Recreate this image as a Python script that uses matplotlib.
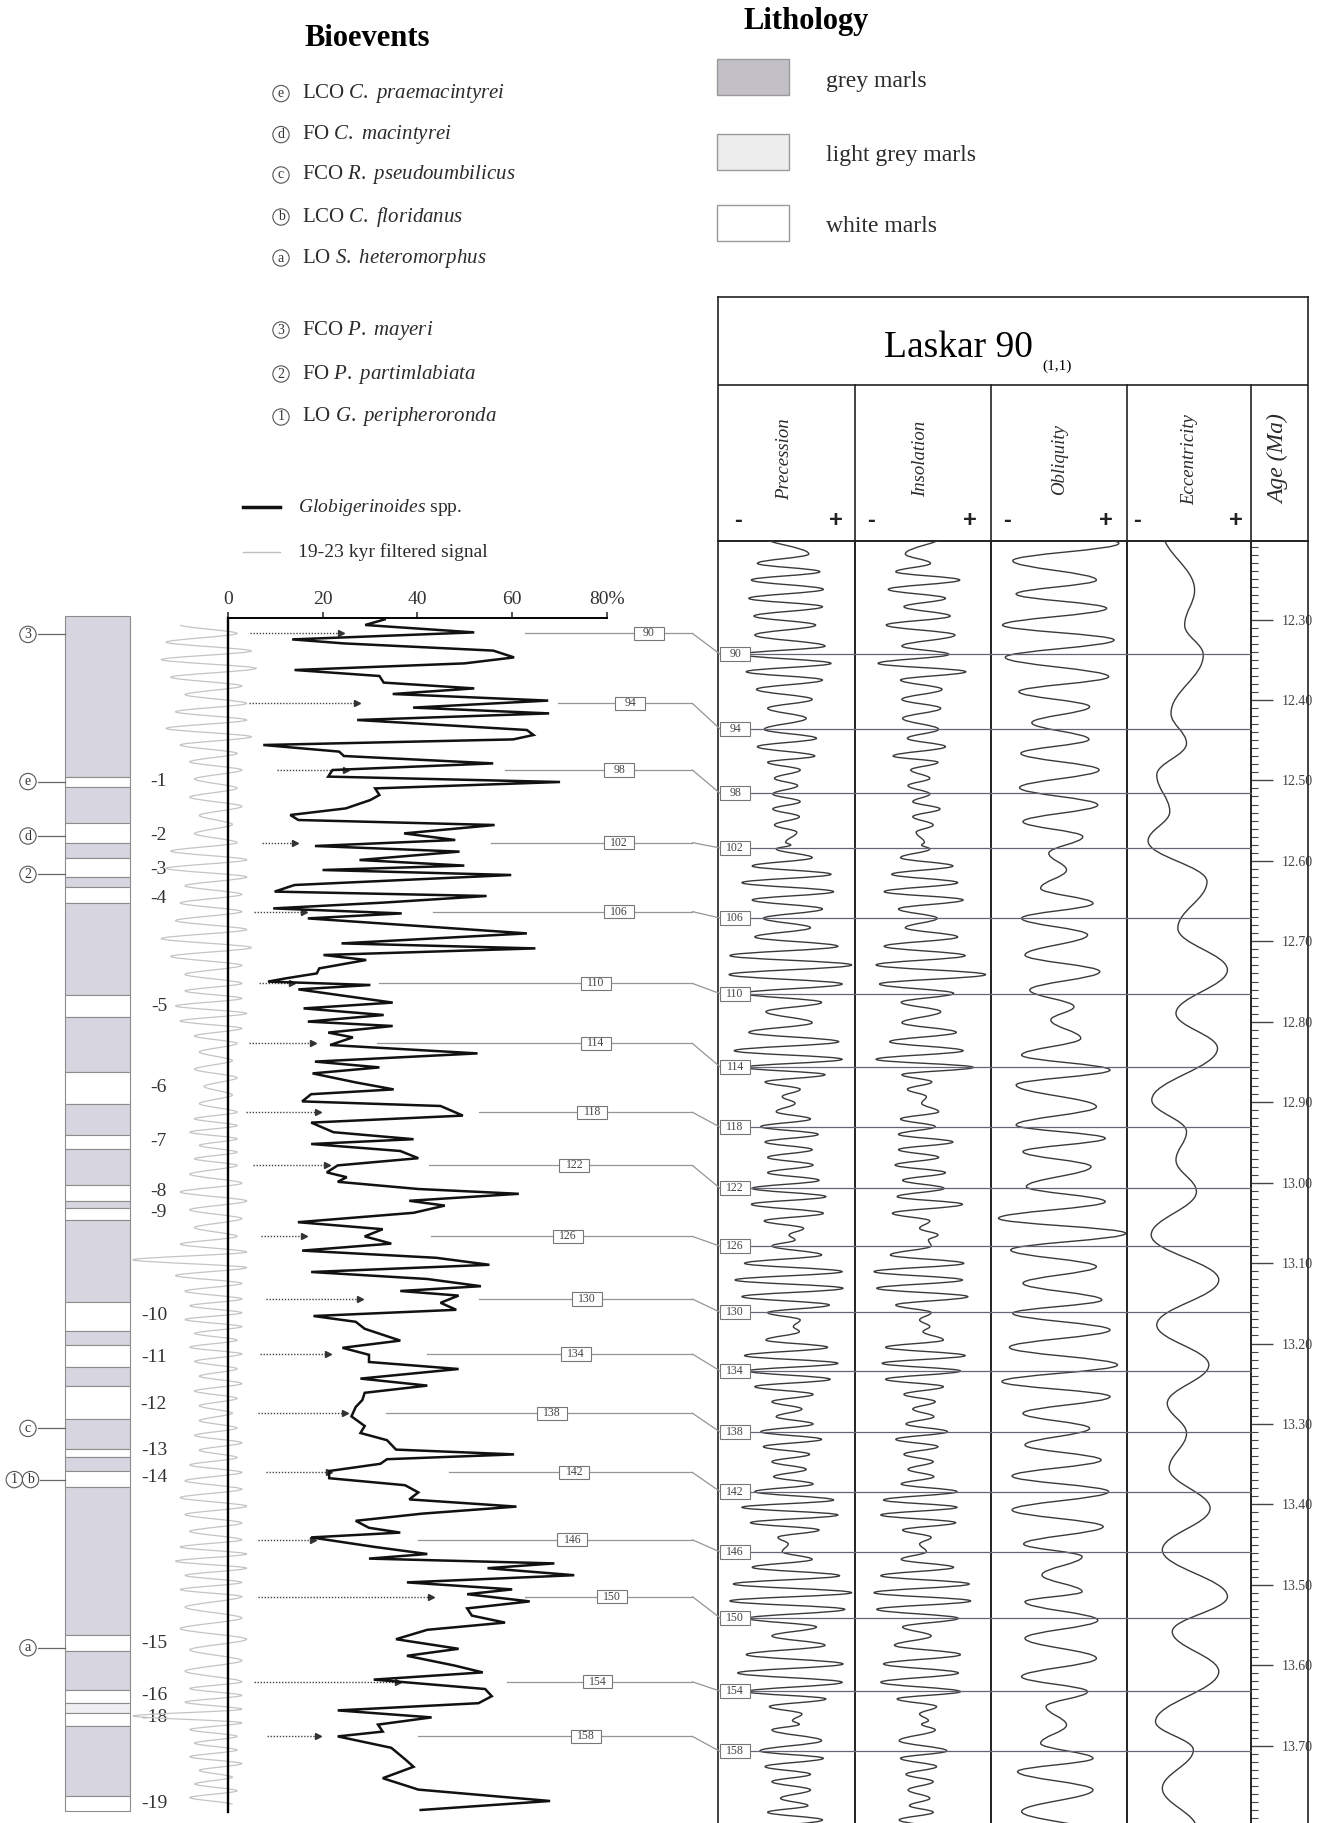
import matplotlib
matplotlib.use("Agg")
import matplotlib.pyplot as plt
from matplotlib.path import Path
from matplotlib.patches import PathPatch, Rectangle, ConnectionPatch
from matplotlib.lines import Line2D
from matplotlib.ticker import MultipleLocator, FormatStrFormatter

plt.rcParams['font.family'] = ['Liberation Serif', 'DejaVu Serif']
plt.rcParams['mathtext.fontset'] = 'custom'
plt.rcParams['mathtext.rm'] = 'Liberation Serif'
plt.rcParams['mathtext.it'] = 'Liberation Serif:italic'
plt.rcParams['mathtext.bf'] = 'Liberation Serif:bold'

# ---------------- data ----------------
# Globigerinoides spp. (%), by stratigraphic position (m)
glob_depth = [0.07, 0.35, 0.72, 1.07, 1.27, 1.63, 1.97, 2.27, 2.60, 2.90, 3.23, 3.52, 3.80, 4.13, 4.48, 4.77,
              5.10, 5.60, 5.85, 6.07, 6.35, 6.68, 6.90, 7.27, 7.60, 7.93, 8.20, 8.52, 8.85, 9.10, 9.52, 9.85,
              10.10, 10.35, 10.77, 11.10, 11.40, 11.68, 12.10, 12.38, 12.60, 12.85, 13.35, 13.68, 13.90, 14.23,
              14.52, 14.77, 15.02, 15.77, 16.27, 16.52, 16.85, 17.10, 17.52, 17.77, 18.02, 18.18, 18.35, 18.57,
              19.23, 19.52, 19.85, 20.18, 20.40, 20.73, 20.97, 21.35, 21.77, 22.18, 22.47, 22.77,
              23.22, 23.57, 23.81, 24.17, 24.40, 24.88, 25.23, 25.71, 26.06, 26.30, 26.65, 27.01, 27.37, 27.72,
              27.96, 28.19, 28.55, 28.79, 29.14, 29.38, 29.74, 30.21, 30.56, 30.92, 31.28, 31.63, 31.99, 32.34,
              32.70, 33.05, 33.41, 33.65, 33.88, 34.24, 34.59, 34.90, 35.19, 35.54, 36.13, 36.49, 36.84, 37.20,
              37.55, 38.03, 38.38, 38.74, 39.10, 39.45, 39.92, 40.40, 40.75, 41.11, 41.58, 41.82, 42.06, 42.29,
              42.65, 43.01, 43.36, 43.72, 44.07, 44.43, 44.78, 45.14, 45.49, 45.73, 45.97, 46.44, 46.80, 47.03,
              47.27, 47.51, 47.86, 48.22, 48.57, 48.81, 49.17, 49.52, 49.88, 50.23, 50.59, 51.06, 51.54, 51.89,
              52.37, 52.72, 53.08, 53.55, 53.91, 54.26, 54.62, 54.97, 55.33, 55.68, 55.92, 56.49, 57.06, 57.44,
              58.01, 58.58, 59.15, 59.60]
glob_pct = [33.1, 29.0, 52.0, 13.6, 24.5, 56.0, 60.4, 49.9, 14.1, 32.0, 32.9, 52.0, 34.8, 67.6, 39.1, 67.8,
            27.3, 63.1, 64.5, 60.2, 7.5, 23.5, 24.5, 56.0, 22.1, 21.2, 70.1, 31.1, 32.0, 30.1, 24.9, 13.2,
            14.9, 56.3, 37.2, 48.0, 18.4, 48.9, 27.8, 49.9, 20.0, 59.8, 14.1, 9.9, 54.6, 32.9,
            9.6, 36.7, 16.9, 63.1, 24.0, 64.9, 20.2, 29.2, 19.3, 18.8, 12.2, 8.5, 30.1, 14.9,
            34.8, 16.0, 32.9, 16.9, 34.8, 21.2, 26.4, 21.6, 52.7, 18.4, 32.0, 17.9,
            27.0, 35.0, 17.6, 15.7, 44.9, 49.6, 17.6, 22.3, 39.2, 17.6, 36.4, 40.2, 23.2, 20.9,
            25.1, 23.2, 40.2, 61.4, 38.3, 45.8, 39.2, 14.8, 32.7, 28.9, 34.5, 15.7, 44.0, 55.2,
            17.6, 42.1, 53.4, 36.4, 48.7, 44.9, 48.2, 18.1, 27.0, 28.9, 36.4, 24.2, 29.8, 29.8,
            48.7, 28.0, 42.1, 28.9, 28.4, 27.0, 26.1, 28.9, 28.0, 33.6, 35.5, 60.4, 33.6, 32.2,
            21.4, 21.4, 37.4, 40.2, 38.3, 60.9, 41.1, 27.0, 29.8, 36.4, 17.6, 30.8, 42.1, 29.8,
            68.9, 54.8, 73.1, 37.8, 60.0, 50.5, 63.7, 50.5, 51.5, 58.5, 42.1, 35.5, 48.7, 37.8,
            47.7, 53.8, 30.8, 54.3, 55.7, 52.9, 23.2, 43.0, 31.7, 32.7, 23.2, 34.5, 37.4, 39.2,
            32.7, 40.2, 68.0, 40.7]

# 19-23 kyr filtered signal (turning points)
filt_depth = [0.35, 0.77,
              1.21, 1.65, 2.08, 2.52, 2.96, 3.40, 3.83, 4.27,
              4.69, 5.10, 5.52, 5.94, 6.35, 6.77, 7.19, 7.60,
              8.05, 8.51, 8.96, 9.42, 9.87, 10.32, 10.78, 11.23,
              11.66, 12.09, 12.52, 12.95, 13.39, 13.82, 14.25, 14.68,
              15.13, 15.58, 16.03, 16.48, 16.92, 17.37, 17.82, 18.27,
              18.65, 19.02, 19.40, 19.77, 20.15, 20.52, 20.90, 21.27,
              21.70, 22.13, 22.56, 22.99, 23.42, 23.85, 24.28, 24.71,
              25.04, 25.38, 25.71, 26.04, 26.37, 26.71, 27.04, 27.37,
              27.81, 28.26, 28.70, 29.15, 29.59, 30.03, 30.48, 30.92,
              31.31, 31.70, 32.09, 32.48, 32.88, 33.27, 33.66, 34.05,
              34.39, 34.74, 35.08, 35.43, 35.77, 36.11, 36.46, 36.80,
              37.17, 37.54, 37.91, 38.28, 38.65, 39.02, 39.39, 39.76,
              40.13, 40.50, 40.87, 41.24, 41.61, 41.98, 42.35, 42.72,
              43.14, 43.56, 43.98, 44.41, 44.83, 45.25, 45.67, 46.09,
              46.45, 46.80, 47.16, 47.51, 47.87, 48.22, 48.58, 48.93,
              49.46, 50.00, 50.53, 51.06, 51.59, 52.13, 52.66, 53.19,
              53.53, 53.87, 54.21, 54.56, 54.90, 55.24, 55.58, 55.92,
              56.26, 56.60, 56.94, 57.28, 57.62, 57.96, 58.30, 58.64, 58.98, 59.32]
filt_pct = [-10, 2,
            -13, 5, -14, 6, -12, 3, -9, 4,
            -11, 4, -13, 5, -10, 2, -8, 3,
            -7, 2, -8, 3, -6, 1, -7, 2,
            -12, 4, -13, 4, -9, 3, -10, 3,
            -11, 4, -14, 5, -12, 3, -9, 3,
            -9, 3, -11, 4, -10, 3, -7, 2,
            -6, 1, -7, 2, -5, 1, -6, 2,
            -7, 2, -8, 2, -6, 2, -7, 2,
            -8, 3, -10, 4, -8, 3, -7, 2,
            -10, 4, -20, 4, -11, 3, -9, 3,
            -8, 3, -9, 3, -7, 2, -8, 3,
            -7, 2, -6, 3, -7, 2, -6, 1,
            -6, 2, -7, 3, -6, 2, -8, 3,
            -9, 3, -10, 4, -9, 3, -8, 3,
            -10, 4, -11, 4, -9, 3, -10, 3,
            -9, 3, -10, 4, -8, 3, -9, 3,
            -8, 3, -9, 3, -20, 3, -8, 2,
            -7, 2, -8, 3, -6, 1, -7, 2, -8, 1]

# lithology: top, base (m), type 0 grey / 1 light grey / 2 white
lith_top = [-0.1, 7.93, 8.43, 10.27, 11.27, 12.02, 12.93, 13.47, 14.27, 18.85, 19.93, 22.68, 24.28, 25.83,
            26.54, 28.36, 29.14, 29.50, 30.09, 34.19, 35.66, 36.37, 37.44, 38.38, 40.04, 41.54, 41.94, 42.65,
            43.43, 50.87, 51.66, 53.62, 54.26, 54.74, 55.38, 58.90]
lith_base = lith_top[1:] + [59.65]
lith_type = [0, 2, 0, 2, 0, 2, 0, 2, 0, 2, 0, 2, 0, 2,
             0, 2, 0, 2, 0, 2, 0, 2, 0, 2, 0, 2, 0, 2,
             0, 2, 0, 2, 1, 2, 0, 2]
white_num = ['-1', '-2', '-3', '-4', '-5', '-6', '-7', '-8', '-9', '-10', '-11', '-12', '-13', '-14',
             '-15', '-16', '-18', '-19']
white_depth = [8.18, 10.85, 12.6, 14.02, 19.43, 23.46, 26.18, 28.67, 29.74, 34.88, 36.96, 39.33, 41.63,
               42.96, 51.3, 53.9, 54.97, 59.3]
bio_depth = [0.82, 8.18, 10.9, 12.82, 40.52, 43.08, 51.49]
bio_mark = ['3', 'e', 'd', '2', 'c', '1b', 'a']

# sedimentary cycles tied to the astronomical solution
cyc_num = [90, 94, 98, 102, 106, 110, 114, 118, 122, 126, 130, 134, 138, 142, 146, 150, 154, 158]
cyc_depth = [0.77, 4.27, 7.60, 11.23, 14.68, 18.27, 21.27, 24.71, 27.37, 30.92, 34.05, 36.80, 39.76,
             42.72, 46.09, 48.93, 53.19, 55.92]
cyc_age = [12.343, 12.436, 12.516, 12.584, 12.671, 12.765, 12.856, 12.931, 13.007, 13.079, 13.161,
           13.234, 13.310, 13.384, 13.459, 13.541, 13.632, 13.707]
cyc_box_pct = [88.8, 84.9, 82.6, 82.6, 82.6, 77.6, 77.6, 76.9, 73.1, 71.7, 75.8, 73.4, 68.4, 73.1,
               72.7, 81.1, 78.0, 75.5]
cyc_line_pct = [62.6, 69.6, 58.4, 55.5, 43.3, 32.0, 31.5, 52.9, 42.5, 42.8, 52.9, 42.1, 33.4, 46.6,
                40.2, 62.8, 59.0, 40.2]
arrow_start = [4.7, 4.5, 10.4, 7.3, 5.6, 6.6, 4.5, 3.8, 5.4, 7.1, 8.0, 6.8, 6.3, 8.0, 6.3, 6.3, 5.6, 8.2]
arrow_end = [24.0, 27.3, 24.9, 14.1, 16.0, 13.6, 17.9, 19.0, 20.9, 16.0, 27.9, 21.2, 24.7, 21.4,
             17.9, 42.8, 36.0, 19.0]

# Laskar 90 (1,1): turning points, age (Ma) and relative amplitude
prec_age = [12.1962, 12.2186, 12.2302, 12.2406, 12.2509, 12.2625, 12.2737, 12.2841, 12.2957, 12.3069,
            12.3193, 12.3330, 12.3433, 12.3545, 12.3649, 12.3752, 12.3868, 12.3993, 12.4104, 12.4229,
            12.4365, 12.4477, 12.4581, 12.4697,
            12.4775, 12.4870, 12.4974, 12.5065, 12.5169, 12.5264, 12.5355, 12.5451, 12.5554, 12.5645,
            12.5770, 12.5803, 12.5852, 12.5960, 12.6064, 12.6167, 12.6271, 12.6383, 12.6486, 12.6598,
            12.6714, 12.6831, 12.6946, 12.7062, 12.7178, 12.7294, 12.7414,
            12.7531, 12.7647, 12.7759, 12.7875, 12.8012, 12.8132, 12.8248, 12.8360, 12.8467, 12.8567,
            12.8658, 12.8749, 12.8840, 12.8931, 12.9014, 12.9118, 12.9209, 12.9304, 12.9400, 12.9495,
            12.9590, 12.9686, 12.9781, 12.9876, 12.9971, 13.0071,
            13.0174, 13.0269, 13.0381, 13.0476, 13.0568, 13.0651, 13.0713, 13.0787, 13.0899, 13.1003,
            13.1106, 13.1210, 13.1313, 13.1417, 13.1521, 13.1616, 13.1707, 13.1790, 13.1852, 13.1956,
            13.2047, 13.2150, 13.2246, 13.2341,
            13.2445, 13.2536, 13.2632, 13.2723, 13.2814, 13.2909, 13.3000, 13.3096, 13.3191, 13.3282,
            13.3377, 13.3469, 13.3564, 13.3655, 13.3746, 13.3841, 13.3945, 13.4036, 13.4131, 13.4227,
            13.4318, 13.4409, 13.4492, 13.4587, 13.4683, 13.4782, 13.4886, 13.4989, 13.5097, 13.5200,
            13.5304, 13.5416,
            13.5523, 13.5635, 13.5751, 13.5867, 13.5983, 13.6095, 13.6211, 13.6327, 13.6418, 13.6513,
            13.6605, 13.6687, 13.6733, 13.6803, 13.6936, 13.7064, 13.7156, 13.7259, 13.7355, 13.7446,
            13.7549, 13.7653, 13.7744, 13.7827, 13.7922, 13.8026]
prec_val = [-0.30, 0.26, -0.34, 0.39, -0.41, 0.43, -0.44, 0.42, -0.38, 0.34, -0.37, 0.45, -0.52, 0.52,
            -0.47, 0.42, -0.35, 0.30, -0.22, 0.23, -0.26, 0.35, -0.34, 0.33,
            -0.22, 0.16, -0.14, 0.13, -0.16, 0.16, -0.16, 0.15, -0.14, 0.12, -0.01, 0.05, -0.12, 0.30,
            -0.40, 0.52, -0.52, 0.55, -0.40, 0.42, -0.27, 0.28, -0.37, 0.60, -0.66, 0.76, -0.67,
            0.65, -0.50, 0.41, -0.24, 0.30, -0.44, 0.61, -0.61, 0.65, -0.49, 0.45, -0.25, 0.16, -0.05,
            0.10, -0.12, 0.28, -0.30, 0.37, -0.25, 0.30, -0.22, 0.31, -0.22, 0.38, -0.40,
            0.46, -0.41, 0.43, -0.26, 0.20, 0.03, 0.10, -0.17, 0.41, -0.49, 0.65, -0.60, 0.66, -0.52,
            0.50, -0.22, 0.16, 0.08, 0.15, -0.24, 0.48, -0.49, 0.60, -0.45,
            0.51, -0.37, 0.31, -0.17, 0.18, -0.12, 0.31, -0.30, 0.41, -0.27, 0.27, -0.17, 0.23, -0.15,
            0.31, -0.37, 0.55, -0.52, 0.60, -0.42, 0.38, -0.10, 0.02, -0.05, 0.30, -0.40, 0.62, -0.62,
            0.76, -0.66, 0.68, -0.45,
            0.35, -0.17, 0.45, -0.47, 0.66, -0.57, 0.65, -0.46, 0.46, -0.20, 0.18, 0.07, 0.15, -0.17,
            0.41, -0.31, 0.43, -0.25, 0.28, -0.17, 0.28, -0.07, 0.25, -0.22, 0.42, -0.22]
insol_val = [0.31, -0.26, 0.11, -0.40, 0.54, -0.51, 0.33, -0.28, 0.40, -0.54, 0.47, -0.31, 0.38, -0.66,
             0.63, -0.33, 0.28, -0.31, 0.26, -0.30, 0.23, -0.23, 0.33, -0.44,
             0.22, -0.18, 0.10, -0.22, 0.10, -0.15, 0.25, -0.15, 0.15, -0.10, 0.02, -0.02, 0.10, -0.33,
             0.44, -0.46, 0.51, -0.57, 0.59, -0.36, 0.21, -0.26, 0.51, -0.57, 0.62, -0.69, 0.92,
             -0.64, 0.45, -0.32, 0.26, -0.31, 0.49, -0.49, 0.59, -0.69, 0.74, -0.31, 0.13, -0.23, 0.05,
             -0.02, 0.23, -0.33, 0.18, -0.36, 0.44, -0.36, 0.23, -0.41, 0.33, -0.30, 0.31,
             -0.38, 0.58, -0.45, 0.10, -0.05, 0.22, 0.08, 0.12, -0.48, 0.60, -0.72, 0.58, -0.68, 0.66,
             -0.40, 0.12, -0.05, 0.10, 0.00, 0.30, -0.55, 0.62, -0.60, 0.55,
             -0.55, 0.30, -0.28, 0.18, -0.15, 0.16, -0.25, 0.36, -0.40, 0.22, -0.28, 0.15, -0.22, 0.16,
             -0.32, 0.50, -0.58, 0.50, -0.62, 0.48, -0.30, 0.12, -0.05, 0.05, -0.32, 0.45, -0.62, 0.68,
             -0.72, 0.70, -0.68, 0.52,
             -0.30, 0.12, -0.42, 0.55, -0.58, 0.52, -0.62, 0.55, -0.38, 0.20, -0.05, 0.08, -0.02, 0.18,
             -0.35, 0.35, -0.33, 0.20, -0.25, 0.15, -0.22, 0.10, -0.20, 0.15, -0.35, 0.20]
obl_age = [12.1846, 12.2053, 12.2269, 12.2509, 12.2683, 12.2861, 12.3069, 12.3255, 12.3470, 12.3711,
           12.3897, 12.4084, 12.4283, 12.4490, 12.4664, 12.4870, 12.5090, 12.5305, 12.5513, 12.5699,
           12.5906, 12.6113, 12.6341, 12.6528, 12.6714, 12.6921, 12.7170, 12.7377, 12.7606, 12.7813,
           12.7978, 12.8206, 12.8414, 12.8600, 12.8786, 12.9056, 12.9284, 12.9449, 12.9615, 12.9801,
           13.0050, 13.0236, 13.0443, 13.0630, 13.0837, 13.1044, 13.1251, 13.1458, 13.1624, 13.1831,
           13.2047, 13.2266, 13.2473, 13.2660, 13.2868, 13.3054, 13.3261, 13.3448, 13.3647, 13.3841,
           13.4069, 13.4276, 13.4492, 13.4649, 13.4877, 13.5084, 13.5210, 13.5440, 13.5664, 13.5913,
           13.6141, 13.6327, 13.6513, 13.6741, 13.6970, 13.7156, 13.7321, 13.7549, 13.7818, 13.8067]
obl_val = [-0.63, 0.88, -0.68, 0.55, -0.63, 0.70, -0.83, 0.81, -0.79, 0.73,
           -0.59, 0.45, -0.40, 0.44, -0.56, 0.59, -0.58, 0.57, -0.53, 0.35,
           -0.15, 0.11, -0.27, 0.50, -0.55, 0.42, -0.50, 0.60, -0.43, 0.22,
           -0.12, 0.32, -0.55, 0.75, -0.63, 0.55, -0.63, 0.68, -0.53, 0.47,
           -0.48, 0.68, -0.89, 0.98, -0.71, 0.55, -0.53, 0.63, -0.68, 0.75,
           -0.73, 0.86, -0.84, 0.75, -0.53, 0.45, -0.50, 0.62, -0.69, 0.73,
           -0.69, 0.65, -0.52, 0.34, -0.25, 0.34, -0.50, 0.57, -0.50, 0.55,
           -0.55, 0.42, -0.19, 0.11, -0.27, 0.50, -0.61, 0.50, -0.55, 0.50]
ecc_age = [12.1888, 12.2634, 12.3069, 12.3441, 12.4166, 12.4539, 12.4933, 12.5388, 12.5753, 12.6258,
           12.6838, 12.7356, 12.7896, 12.8331, 12.8973, 12.9367, 12.9719, 13.0112, 13.0650, 13.1210,
           13.1769, 13.2266, 13.2743, 13.3116, 13.3551, 13.4049, 13.4566, 13.5146, 13.5581, 13.6078,
           13.6700, 13.7052, 13.7529, 13.8026]
ecc_val = [-0.43, 0.09, -0.07, 0.23, -0.29, -0.04, -0.52, -0.31, -0.66, 0.29,
           -0.18, 0.62, -0.21, 0.46, -0.60, -0.04, -0.21, 0.12, -0.61, 0.48,
           -0.52, 0.32, -0.35, -0.04, -0.32, 0.34, -0.43, 0.62, -0.27, 0.48,
           -0.54, 0.07, -0.43, 0.12]

bio_text = [('e', 'LCO', 'C.\\ praemacintyrei'), ('d', 'FO', 'C.\\ macintyrei'),
            ('c', 'FCO', 'R.\\ pseudoumbilicus'), ('b', 'LCO', 'C.\\ floridanus'),
            ('a', 'LO', 'S.\\ heteromorphus'), ('3', 'FCO', 'P.\\ mayeri'),
            ('2', 'FO', 'P.\\ partimlabiata'), ('1', 'LO', 'G.\\ peripheroronda')]
bio_text_y = [93.6, 134.6, 175, 217, 258, 330, 374, 417]
lith_legend = ['grey marls', 'light grey marls', 'white marls']
col_names = ['Precession', 'Insolation', 'Obliquity', 'Eccentricity']

# ---------------- layout ----------------
W, H = 1325, 1823
fig = plt.figure(figsize=(W / 100, H / 100), dpi=100)
DMAX = 59.7
AGE_TOP, AGE_BOT = 12.2024, 13.796
LITH_COL = {0: '#d7d5df', 1: '#efeff1', 2: '#ffffff'}
TXT = '#2b2b2b'


def rect(x0, y0, x1, y1):
    return [x0 / W, 1 - y1 / H, (x1 - x0) / W, (y1 - y0) / H]


def smooth(vals, ages, k=0.38):
    verts = [(vals[0], ages[0])]
    codes = [Path.MOVETO]
    for i in range(len(vals) - 1):
        dt = ages[i + 1] - ages[i]
        verts += [(vals[i], ages[i] + k * dt), (vals[i + 1], ages[i + 1] - k * dt), (vals[i + 1], ages[i + 1])]
        codes += [Path.CURVE4] * 3
    return Path(verts, codes)


def circ(ax, x, y, s, fs=10):
    ax.text(x, y, s, ha='center', va='center', fontsize=fs, color='#333', zorder=6, clip_on=False,
            bbox=dict(boxstyle='circle,pad=0.12', fc='white', ec='#555', lw=0.8))


# ---- titles and legends (top left / top right) ----
fig.text(367 / W, 1 - 38 / H, 'Bioevents', ha='center', va='center', fontsize=22, fontweight='bold')
for (m, a, b), y in zip(bio_text, bio_text_y):
    fig.text(281 / W, 1 - y / H, m, ha='center', va='center', fontsize=10, color='#333',
             bbox=dict(boxstyle='circle,pad=0.12', fc='white', ec='#555', lw=0.8))
    fig.text(302 / W, 1 - y / H, a + ' $\\mathit{' + b + '}$', ha='left', va='center', fontsize=15, color=TXT)

fig.add_artist(Line2D([243 / W, 280 / W], [1 - 507 / H] * 2, color='#111', lw=2.5))
fig.add_artist(Line2D([243 / W, 280 / W], [1 - 552 / H] * 2, color='#bdbdbd', lw=1.0))
fig.text(298 / W, 1 - 507 / H, '$\\mathit{Globigerinoides}$ spp.', ha='left', va='center', fontsize=14, color=TXT)
fig.text(298 / W, 1 - 552 / H, '19-23 kyr filtered signal', ha='left', va='center', fontsize=14, color=TXT)

fig.text(744 / W, 1 - 22 / H, 'Lithology', ha='left', va='center', fontsize=22, fontweight='bold')
for i, (lab, yb) in enumerate(zip(lith_legend, [59, 134, 205])):
    fc = ['#c2c0c6', '#ededed', '#ffffff'][i]
    fig.add_artist(Rectangle((717 / W, 1 - (yb + 36) / H), 72 / W, 36 / H, fc=fc, ec='#9a9a9a', lw=1.0,
                             transform=fig.transFigure))
    fig.text(826 / W, 1 - (yb + 22) / H, lab, ha='left', va='center', fontsize=17, color=TXT)

# ---- lithological column ----
ax_lith = fig.add_axes(rect(65, 618, 130, 618 + 20 * DMAX))
ax_lith.set_xlim(0, 1)
ax_lith.set_ylim(DMAX, 0)
ax_lith.axis('off')
for t, b, k in zip(lith_top, lith_base, lith_type):
    ax_lith.add_patch(Rectangle((0, t), 1, b - t, fc=LITH_COL[k], ec='#8c8c8c', lw=0.8, clip_on=False))
for s, d in zip(white_num, white_depth):
    ax_lith.text(1.57, d, s, ha='right', va='center', fontsize=14, color='#333', clip_on=False)
for d, m in zip(bio_depth, bio_mark):
    if len(m) == 1:
        ax_lith.plot([-0.42, 0], [d, d], color='#666', lw=0.9, clip_on=False)
        circ(ax_lith, -0.57, d, m)
    else:
        ax_lith.plot([-0.38, 0], [d, d], color='#666', lw=0.9, clip_on=False)
        circ(ax_lith, -0.78, d, m[0])
        circ(ax_lith, -0.53, d, m[1])

# ---- Globigerinoides curve ----
ax = fig.add_axes(rect(227.7, 618, 607, 618 + 20 * DMAX))
ax.set_xlim(0, 80)
ax.set_ylim(DMAX, 0)
ax.patch.set_alpha(0)
for s in ('right', 'bottom'):
    ax.spines[s].set_visible(False)
ax.spines['left'].set_linewidth(1.7)
ax.spines['top'].set_linewidth(1.4)
ax.set_yticks([])
ax.xaxis.tick_top()
ax.set_xticks([0, 20, 40, 60, 80])
ax.set_xticklabels(['0', '20', '40', '60', '80%'])
ax.tick_params(axis='x', direction='out', length=4, width=1.2, labelsize=14, pad=3, colors='#333')

ax.add_patch(PathPatch(smooth(filt_pct, filt_depth, 0.3), fill=False, ec='#c4c4c4', lw=0.9,
                       clip_on=False, zorder=1))
ax.plot(glob_pct, glob_depth, color='#111', lw=1.8, clip_on=False, zorder=4, solid_joinstyle='miter')

for s, e, d in zip(arrow_start, arrow_end, cyc_depth):
    ax.plot([s, e], [d, d], ls=(0, (1, 1.2)), color='#444', lw=1.0, clip_on=False, zorder=2)
    ax.plot([e], [d], marker='>', ms=5, color='#333', clip_on=False, zorder=2)

# ---- Laskar table ----
ax_head = fig.add_axes(rect(718, 297, 1308, 541))
ax_head.set_xlim(0, 1)
ax_head.set_ylim(0, 1)
ax_head.set_xticks([])
ax_head.set_yticks([])
for s in ax_head.spines.values():
    s.set_linewidth(1.2)
    s.set_color('#222')
col_x = [718, 855, 991, 1127, 1251, 1308]
ax_head.axhline(0.639, color='#222', lw=1.2)
for x in col_x[1:-1]:
    ax_head.plot([(x - 718) / 590] * 2, [0, 0.639], color='#222', lw=1.2)
ax_head.text(0.4068, 0.79, 'Laskar 90', ha='center', va='center', fontsize=27)
ax_head.text(0.549, 0.717, '(1,1)', ha='left', va='center', fontsize=11)
for name, xc in zip(col_names, [785, 921, 1060, 1190]):
    ax_head.text((xc - 718) / 590, 0.335, name, rotation=90, ha='center', va='center', fontsize=13.5,
                 style='italic', color=TXT)
ax_head.text((1279 - 718) / 590, 0.335, 'Age (Ma)', rotation=90, ha='center', va='center', fontsize=17,
             style='italic', color=TXT)
for xm, xp in zip([737.6, 871, 1007, 1137], [835.5, 970, 1106, 1235.5]):
    ax_head.text((xm - 718) / 590, 0.085, '-', ha='center', va='center', fontsize=17, fontweight='bold',
                 family='Liberation Sans', color='#222')
    ax_head.text((xp - 718) / 590, 0.085, '+', ha='center', va='center', fontsize=17, fontweight='bold',
                 family='Liberation Sans', color='#222')


def column(x0, x1, half=1.0):
    a = fig.add_axes(rect(x0, 541, x1, 1823))
    a.set_xlim(-half, half)
    a.set_ylim(AGE_BOT, AGE_TOP)
    a.set_xticks([])
    a.set_yticks([])
    a.spines['bottom'].set_visible(False)
    for s in ('left', 'right', 'top'):
        a.spines[s].set_linewidth(1.2)
        a.spines[s].set_color('#222')
    a.patch.set_alpha(0)
    return a


curves = [(prec_val, prec_age), (insol_val, prec_age), (obl_val, obl_age), (ecc_val, ecc_age)]
halves = [0.8, 1.0, 1.0, 1.0]
for i, (v, t) in enumerate(curves):
    a = column(col_x[i], col_x[i + 1], halves[i])
    a.add_patch(PathPatch(smooth(v, t), fill=False, ec='#3a3a3a', lw=1.0, zorder=3))

ax_age = column(1251, 1308)
ax_age.yaxis.set_major_locator(MultipleLocator(0.1))
ax_age.yaxis.set_minor_locator(MultipleLocator(0.01))
ax_age.yaxis.set_major_formatter(FormatStrFormatter('%.2f'))
ax_age.tick_params(axis='y', which='both', left=True, right=False, direction='in',
                   labelleft=False, labelright=True, colors='#444')
ax_age.tick_params(axis='y', which='major', length=16, width=1.0, pad=-19, labelsize=10)
ax_age.tick_params(axis='y', which='minor', length=5, width=0.8)

# cycle lines, boxes and tie lines
ax_fr = fig.add_axes(rect(718, 541, 1308, 1823))
ax_fr.set_xlim(0, 1)
ax_fr.set_ylim(AGE_BOT, AGE_TOP)
ax_fr.axis('off')
ax_fr.hlines(cyc_age, 0.054, (1251 - 718) / 590, color='#6a6270', lw=0.9, zorder=2)
for n, a in zip(cyc_num, cyc_age):
    ax_fr.add_patch(Rectangle((0.0034, a - 0.0088), 0.051, 0.0176, fc='white', ec='#777', lw=0.8, zorder=4))
    ax_fr.text(0.029, a, str(n), ha='center', va='center', fontsize=8.5, color='#444', zorder=5)

for n, d, bp, lp, a in zip(cyc_num, cyc_depth, cyc_box_pct, cyc_line_pct, cyc_age):
    ax.plot([lp, 98], [d, d], color='#959595', lw=0.9, clip_on=False, zorder=1)
    ax.add_patch(Rectangle((bp - 3.15, d - 0.33), 6.3, 0.66, fc='white', ec='#777', lw=0.8,
                           clip_on=False, zorder=5))
    ax.text(bp, d, str(n), ha='center', va='center', fontsize=8.5, color='#444', zorder=6, clip_on=False)
    con = ConnectionPatch(xyA=(98, d), coordsA=ax.transData, xyB=(0.0034, a), coordsB=ax_fr.transData,
                          color='#959595', lw=0.9)
    fig.add_artist(con)

fig.savefig('out.png', dpi=100)
